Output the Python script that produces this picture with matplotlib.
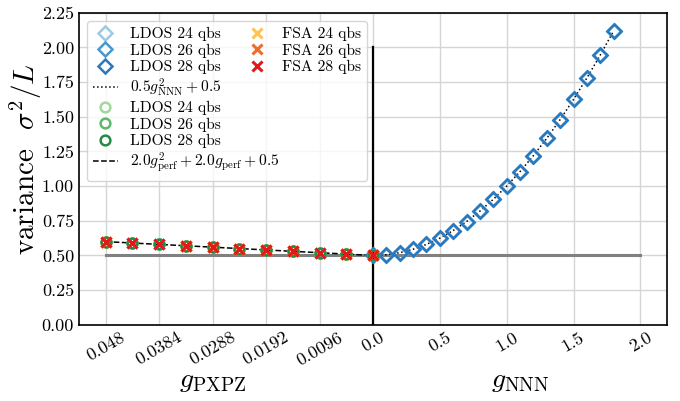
import numpy as np
import matplotlib
matplotlib.use("Agg")
import matplotlib.pyplot as plt
from matplotlib.lines import Line2D

plt.rcParams['font.family'] = 'serif'
plt.rcParams['font.serif'] = ['cmr10', 'DejaVu Serif']
plt.rcParams['mathtext.fontset'] = 'cm'
plt.rcParams['axes.formatter.use_mathtext'] = True

# data
sizes = [24, 26, 28]
g_pxpz = [0.048, 0.0432, 0.0384, 0.0336, 0.0288, 0.024, 0.0192, 0.0144, 0.0096, 0.0048, 0.0]
var_pxpz = [0.60, 0.59, 0.58, 0.57, 0.56, 0.55, 0.54, 0.53, 0.52, 0.51, 0.50]
g_nnn = [0.0, 0.1, 0.2, 0.3, 0.4, 0.5, 0.6, 0.7, 0.8, 0.9, 1.0,
         1.1, 1.2, 1.3, 1.4, 1.5, 1.6, 1.7, 1.8]
var_nnn = [0.50, 0.505, 0.52, 0.545, 0.58, 0.625, 0.68, 0.745, 0.82, 0.905, 1.0,
           1.105, 1.22, 1.345, 1.48, 1.625, 1.78, 1.945, 2.12]

xtick_pos = [-2.0, -1.6, -1.2, -0.8, -0.4, 0.0, 0.5, 1.0, 1.5, 2.0]
xtick_lab = ['0.048', '0.0384', '0.0288', '0.0192', '0.0096', '0.0', '0.5', '1.0', '1.5', '2.0']
yticks = [0.0, 0.25, 0.5, 0.75, 1.0, 1.25, 1.5, 1.75, 2.0, 2.25]

fit1_label = r'$0.5g_{\rm NNN}^2 + 0.5$'
fit2_label = r'$2.0g_{\rm perf}^2 + 2.0g_{\rm perf} + 0.5$'

blues = ['#9ecae1', '#4a96d0', '#2a78be']
greens = ['#a1d99b', '#5fb867', '#238b45']
reds = ['#fec44f', '#f16b2d', '#e0191c']

# left half: g_pxpz shown mirrored, 0.048 -> -2
x_left = -np.array(g_pxpz) / 0.024
x_right = np.array(g_nnn)

fig = plt.figure(figsize=(6.8, 4.01), dpi=100)
ax = fig.add_axes([0.116, 0.19, 0.865, 0.778])

ax.plot([-2, 2], [0.5, 0.5], color='gray', lw=2.2, zorder=1)
ax.plot([0, 0], [0, 2.0], color='black', lw=1.6, zorder=2)

h = []
for i, n in enumerate(sizes):
    l, = ax.plot(x_right, var_nnn, ls='none', marker='D', ms=7, mfc='none',
                 mec=blues[i], mew=1.8, zorder=4, label='LDOS %d qbs' % n)
    h.append(l)
fit1, = ax.plot(x_right, var_nnn, ls=':', color='black', lw=1.1, zorder=3,
                label=fit1_label)
h.append(fit1)
for i, n in enumerate(sizes):
    l, = ax.plot(x_left, var_pxpz, ls='none', marker='o', ms=7, mfc='none',
                 mec=greens[i], mew=1.8, zorder=4, label='LDOS %d qbs' % n)
    h.append(l)
# short stand-in so the long label can spill into the empty 2nd column
fit2, = ax.plot(x_left, var_pxpz, ls='--', color='black', lw=1.1, zorder=3,
                label=r'$2.0g_{\rm perf}^2$')
h.append(fit2)
hx = []
for i, n in enumerate(sizes):
    l, = ax.plot(x_left, var_pxpz, ls='none', marker='x', ms=7.5, mew=2.2,
                 color=reds[i], zorder=5, label='FSA %d qbs' % n)
    hx.append(l)
blank = Line2D([], [], ls='none', marker='none')
handles = h + hx + [blank] * 5
labels = [a.get_label() for a in h + hx] + [''] * 5

fs_leg = 11.2
leg = ax.legend(handles, labels, ncol=2, loc='upper left', fontsize=fs_leg,
                handlelength=1.6, columnspacing=1.5, labelspacing=0.15,
                borderaxespad=0.5, handletextpad=0.8)

ax.set_xlim(-2.2, 2.2)
ax.set_ylim(0, 2.25)
ax.set_xticks(xtick_pos)
ax.set_xticklabels(xtick_lab, rotation=30, ha='center')
ax.set_yticks(yticks)
ax.set_yticklabels(['%.2f' % v for v in yticks])
ax.tick_params(direction='in', length=0, labelsize=13)
ax.grid(True, color='#d5d5d5', lw=1)
ax.set_axisbelow(True)
for s in ax.spines.values():
    s.set_linewidth(1.2)

ax.set_ylabel(r'variance  $\sigma^2/L$', fontsize=21)
ax.yaxis.set_label_coords(-0.06, 0.53)
fig.text(0.313, 0.035, r'$g_{\rm PXPZ}$', fontsize=20, ha='center')
fig.text(0.765, 0.035, r'$g_{\rm NNN}$', fontsize=20, ha='center')

fig.canvas.draw()
stub = leg.get_texts()[7]
bb = stub.get_window_extent()
stub.set_alpha(0)
fig.text(bb.x0, bb.y0, fit2_label, fontsize=fs_leg, ha='left', va='bottom',
         transform=None, zorder=10)

fig.savefig('out.png', dpi=100)
